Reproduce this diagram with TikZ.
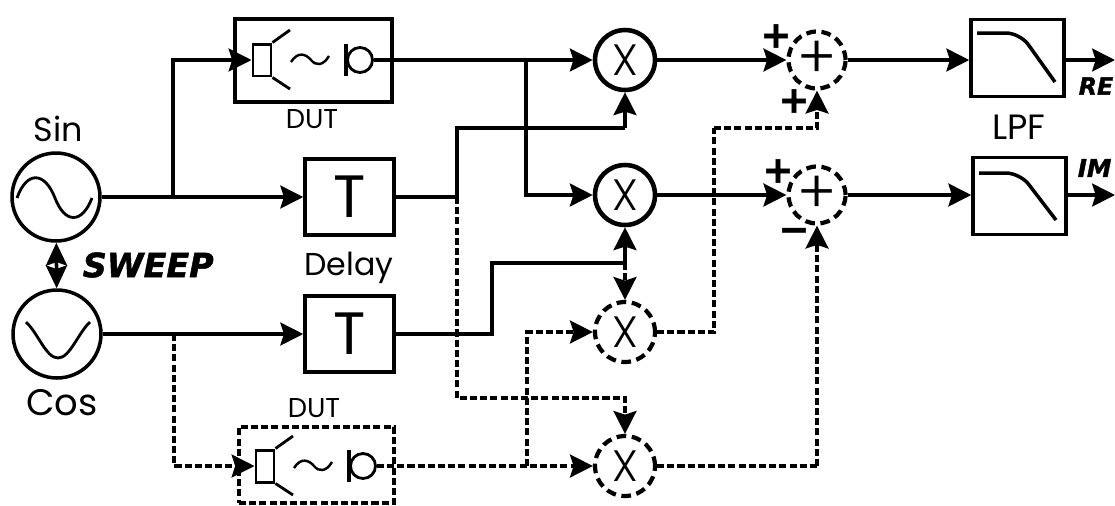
\documentclass[tikz,border=0pt]{standalone}
\usepackage{fontspec}
\setmainfont{Poppins}
\newfontfamily\thinfont{Poppins Light}
\newfontfamily\tagfont{DejaVu Sans}[BoldFeatures={FakeBold=1.5},BoldItalicFeatures={FakeBold=1.5}]
\usetikzlibrary{arrows.meta}

\begin{document}
\begin{tikzpicture}[x=0.02cm,y=-0.02cm,
  line width=2pt,
  tip/.style={-{Stealth[length=13pt,width=13pt,inset=2pt]}},
  both tips/.style={{Stealth[length=13pt,width=12pt,inset=2pt]}-{Stealth[length=13pt,width=12pt,inset=2pt]}},
  wire/.style={draw,tip},
  dash wire/.style={draw,tip,dash pattern=on 4pt off 1.8pt},
  dash line/.style={draw,dash pattern=on 4pt off 1.8pt},
  osc node/.style={circle,draw,minimum size=1.76cm,inner sep=0pt},
  box node/.style={rectangle,draw,inner sep=0pt,minimum height=1.52cm},
  delay node/.style={box node,minimum width=1.78cm,font=\fontsize{34pt}{34pt}\selectfont},
  lpf node/.style={box node,minimum width=1.86cm,minimum height=1.54cm},
  mul node/.style={circle,draw,line width=2.6pt,minimum size=1.2cm,inner sep=0pt,font=\thinfont\fontsize{25pt}{25pt}\selectfont},
  dash mul node/.style={mul node,line width=2.4pt,dash pattern=on 5.5pt off 3.2pt},
  sum node/.style={dash mul node,minimum size=1.14cm,font=\thinfont\fontsize{34pt}{34pt}\selectfont},
  label node/.style={inner sep=0pt,font=\fontsize{#1}{#1}\selectfont},
  sign node/.style={inner sep=0pt,font=\tagfont\bfseries\fontsize{21pt}{21pt}\selectfont},
  tag node/.style={inner sep=0pt,anchor=west,font=\tagfont\bfseries\itshape\fontsize{#1}{#1}\selectfont}]

  \useasboundingbox (0,0) rectangle (1115,505);
  \clip (0,0) rectangle (1115,505);

  % generators
  \node[osc node] (sin) at (56,197) {};
  \node[osc node] (cos) at (57,334) {};
  \draw[line width=1.6pt] (17,198) .. controls (27,170) and (45,172) .. (55,198)
    .. controls (65,224) and (82,224) .. (92,198);
  \draw[line width=1.6pt] (26,322) .. controls (38,333) and (46,358) .. (58,358)
    .. controls (70,358) and (78,333) .. (90,322);
  \node[label node=19pt] (sinl) at (58,129) {Sin};
  \node[label node=21pt] (cosl) at (62,403) {Cos};
  \node[tag node=19pt] (swp) at (81,265) {SWEEP};

  % boxes
  \node[box node,minimum width=3.14cm,minimum height=1.66cm] (duta) at (313.5,60.5) {};
  \node[box node,dash line,minimum width=3.1cm] (dutb) at (316.5,465) {};
  \node[delay node] (t1) at (349.5,197) {T};
  \node[delay node] (t2) at (349.5,334) {T};
  \node[lpf node] (lpf1) at (1017.5,58) {};
  \node[lpf node] (lpf2) at (1019.5,196) {};
  \draw[rounded corners=8pt] (977,33) -- (1020,33) -- (1055,82);
  \draw[rounded corners=8pt] (979,173) -- (1020,173) -- (1056,220);
  \node[label node=15.5pt] (dutal) at (312,119) {DUT};
  \node[label node=15.5pt] (dutbl) at (314,408) {DUT};
  \node[label node=18pt] (dell) at (349,268) {Delay};
  \node[label node=20pt] (lpfl) at (1019,127) {LPF};

  % speaker and microphone
  \foreach \nm/\dx/\y in {a/0/60,b/3/466}{
    \begin{scope}[shift={(\dx,\y)}]
      \node[rectangle,draw,line width=1.7pt,inner sep=0pt,minimum width=0.36cm,minimum height=0.64cm] (spk\nm) at (262,0) {};
      \node[circle,draw,line width=1.6pt,inner sep=0pt,minimum size=0.5cm] (mic\nm) at (360,0) {};
      \draw[line width=1.6pt] (spk\nm.north east) -- (290,-30);
      \draw[line width=1.6pt] (spk\nm.south east) -- (290,29);
      \draw[line width=1.4pt] (291,2) .. controls (298,-9) and (306,-6) .. (311,0)
        .. controls (316,6) and (323,6) .. (329,-4);
      \draw[line width=2.4pt] (346,-16) -- (346,16);
    \end{scope}
  }

  % multipliers and adders
  \node[mul node] (m1) at (625,60) {X};
  \node[mul node] (m2) at (625,195) {X};
  \node[dash mul node] (m3) at (625,332) {X};
  \node[dash mul node] (m4) at (625,466) {X};
  \node[sum node] (s1) at (817,60) {+};
  \node[sum node] (s2) at (817,195) {+};
  \node[sign node] (p1) at (776,36) {+};
  \node[sign node] (p2) at (794,101) {+};
  \node[sign node] (p3) at (778,171) {+};
  \node[sign node] (p4) at (794,235) {−};
  \node[tag node=13.5pt] (re) at (1077,86) {RE};
  \node[tag node=14pt] (im) at (1076,168) {IM};

  % junctions
  \coordinate (ja) at (173,197);
  \coordinate (jb) at (174,334);
  \coordinate (jc) at (457,197);
  \coordinate (jd) at (526,60);
  \coordinate (je) at (492,334);
  \coordinate (jf) at (625,263);
  \coordinate (jg) at (527,466);
  \coordinate (jh) at (457,398);
  \coordinate (ji) at (714,128);
  \coordinate (jj) at (625,128);
  \coordinate (jk) at (817,466);
  \coordinate (outa) at (1115,60);
  \coordinate (outb) at (1115,195);

  % solid paths
  \draw[both tips] (sin) -- (cos);
  \path[wire] (sin) -- (t1);
  \path[wire] (ja) |- (spka.west);
  \path[wire] (cos) -- (t2);
  \path[wire] (mica) -- (m1);
  \path[wire] (jd) |- (m2);
  \draw (t1) -- (jc) |- (jj);
  \path[wire] (jj) -- (m1);
  \draw (t2) -- (je) |- (jf);
  \path[wire] (jf) -- (m2);
  \path[wire] (m1) -- (s1);
  \path[wire] (m2) -- (s2);
  \path[wire] (s1) -- (s1 -| lpf1.west);
  \path[wire] (s2) -- (s2 -| lpf2.west);
  \path[wire] (outa -| lpf1.east) -- (outa);
  \path[wire] (outb -| lpf2.east) -- (outb);

  % dashed paths
  \path[dash wire] (jf) -- (m3);
  \path[dash wire] (jc) |- (jh) -| (m4);
  \path[dash wire] (jb) |- (spkb.west);
  \path[dash wire] (micb) -- (m4);
  \path[dash wire] (jg) |- (m3);
  \path[dash line] (m3) -| (ji);
  \path[dash wire] (ji) -| (s1);
  \path[dash line] (m4) -- (jk);
  \path[dash wire] (jk) -- (s2);
\end{tikzpicture}
\end{document}
